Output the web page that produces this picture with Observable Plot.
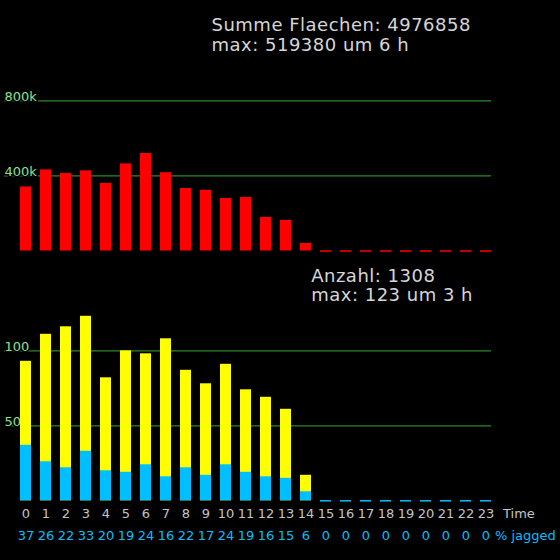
<!DOCTYPE html>
<html>
<head>
<meta charset="utf-8">
<script src="https://cdn.jsdelivr.net/npm/d3@7"></script>
<script src="https://cdn.jsdelivr.net/npm/@observablehq/plot@0.6"></script>
<style>
html, body { margin: 0; padding: 0; background: #000; }
#chart { position: relative; width: 560px; height: 560px; background: #000; overflow: hidden; }
#chart svg { display: block; }
</style>
</head>
<body>
<div id="chart"></div>
<script>
// ---- data ----
const hours = [0,1,2,3,4,5,6,7,8,9,10,11,12,13,14,15,16,17,18,19,20,21,22,23];
const area = [341000,432000,413000,427000,360000,464000,519380,417000,333000,323000,280000,285000,179000,163000,40000,0,0,0,0,0,0,0,0,0];
const count = [93,111,116,123,82,100,98,108,87,78,91,74,69,61,17,0,0,0,0,0,0,0,0,0];
const jagged = [37,26,22,33,20,19,24,16,22,17,24,19,16,15,6,0,0,0,0,0,0,0,0,0];
const topTicks = [400000, 800000];
const topTickLabels = ["400k", "800k"];
const bottomTicks = [50, 100];
const bottomTickLabels = ["50", "100"];
const topTitle = ["Summe Flaechen: 4976858", "max: 519380 um 6 h"];
const bottomTitle = ["Anzahl: 1308", "max: 123 um 3 h"];
const xAxisName = "Time";
const jaggedName = "% jagged";

const table = hours.map((h, i) => ({hour: h, area: area[i], count: count[i], jagged: jagged[i]}));
const font = "DejaVu Sans, sans-serif";
const gridColor = "#2a8a2a";
const tickColor = "#8fe08f";
const titleColor = "#d6d6d6";
const labelColor = "#c4c4c4";
const blue = "#00bfff";

const xScale = {type: "band", domain: hours, paddingInner: 0.45, paddingOuter: 0.225, axis: null};
const common = {
  width: 560,
  marginLeft: 15.5,
  marginRight: 64.5,
  style: {background: "black", color: labelColor, fontFamily: font, fontSize: "13px", overflow: "visible"}
};
const titleStyle = {textAnchor: "start", lineAnchor: "bottom", fill: titleColor, fontSize: 18, frameAnchor: "top-left"};
const gridStyle = {stroke: gridColor, strokeWidth: 1.2, insetLeft: -11.5, insetRight: 4.5};
const tickLabelStyle = {frameAnchor: "left", dx: -11.5, textAnchor: "start", lineAnchor: "bottom", fill: tickColor, stroke: "black", strokeWidth: 3, fontSize: 13};

const topPlot = Plot.plot({
  ...common,
  height: 260,
  marginTop: 62.75,
  marginBottom: 9.5,
  x: xScale,
  y: {domain: [0, 1000000], axis: null},
  marks: [
    Plot.ruleY(topTicks, {y: d => d, ...gridStyle}),
    Plot.text(topTicks, {y: d => d, text: (d, i) => topTickLabels[i], ...tickLabelStyle}),
    Plot.barY(table, {x: "hour", y: "area", fill: "#ff0000"}),
    Plot.tickY(table.filter(d => d.area === 0), {x: "hour", y: "area", stroke: "#ff0000", strokeWidth: 1.5}),
    Plot.text([topTitle[0]], {...titleStyle, dx: 195.5, dy: -31.9}),
    Plot.text([topTitle[1]], {...titleStyle, dx: 195.5, dy: -12.1})
  ]
});

const bottomPlot = Plot.plot({
  ...common,
  height: 300,
  marginTop: 0.3,
  marginBottom: 59.7,
  x: xScale,
  y: {domain: [0, 160], axis: null},
  marks: [
    Plot.ruleY(bottomTicks, {y: d => d, ...gridStyle}),
    Plot.text(bottomTicks, {y: d => d, text: (d, i) => bottomTickLabels[i], ...tickLabelStyle}),
    Plot.barY(table, {x: "hour", y: "count", fill: "#ffff00"}),
    Plot.barY(table, {x: "hour", y: "jagged", fill: blue}),
    Plot.tickY(table.filter(d => d.count === 0), {x: "hour", y: "count", stroke: blue, strokeWidth: 1.5}),
    Plot.text(table, {x: "hour", text: d => String(d.hour), frameAnchor: "bottom", dy: 17.3, fill: labelColor, fontSize: 13}),
    Plot.text(table, {x: "hour", text: d => String(d.jagged), frameAnchor: "bottom", dy: 39.3, fill: blue, fontSize: 13}),
    Plot.text([xAxisName], {frameAnchor: "bottom-right", dx: 7, dy: 17.3, textAnchor: "start", fill: labelColor, fontSize: 13}),
    Plot.text([jaggedName], {frameAnchor: "bottom-right", dx: -1, dy: 39.3, textAnchor: "start", fill: blue, fontSize: 13}),
    Plot.text([bottomTitle[0]], {...titleStyle, dx: 295.2, dy: 20.7}),
    Plot.text([bottomTitle[1]], {...titleStyle, dx: 295.2, dy: 40.4})
  ]
});

for (const p of [topPlot, bottomPlot]) {
  p.querySelectorAll("[font-size='18']").forEach(g => { g.style.letterSpacing = "0.5px"; });
}

const chart = document.getElementById("chart");
chart.appendChild(topPlot);
chart.appendChild(bottomPlot);
</script>
</body>
</html>
